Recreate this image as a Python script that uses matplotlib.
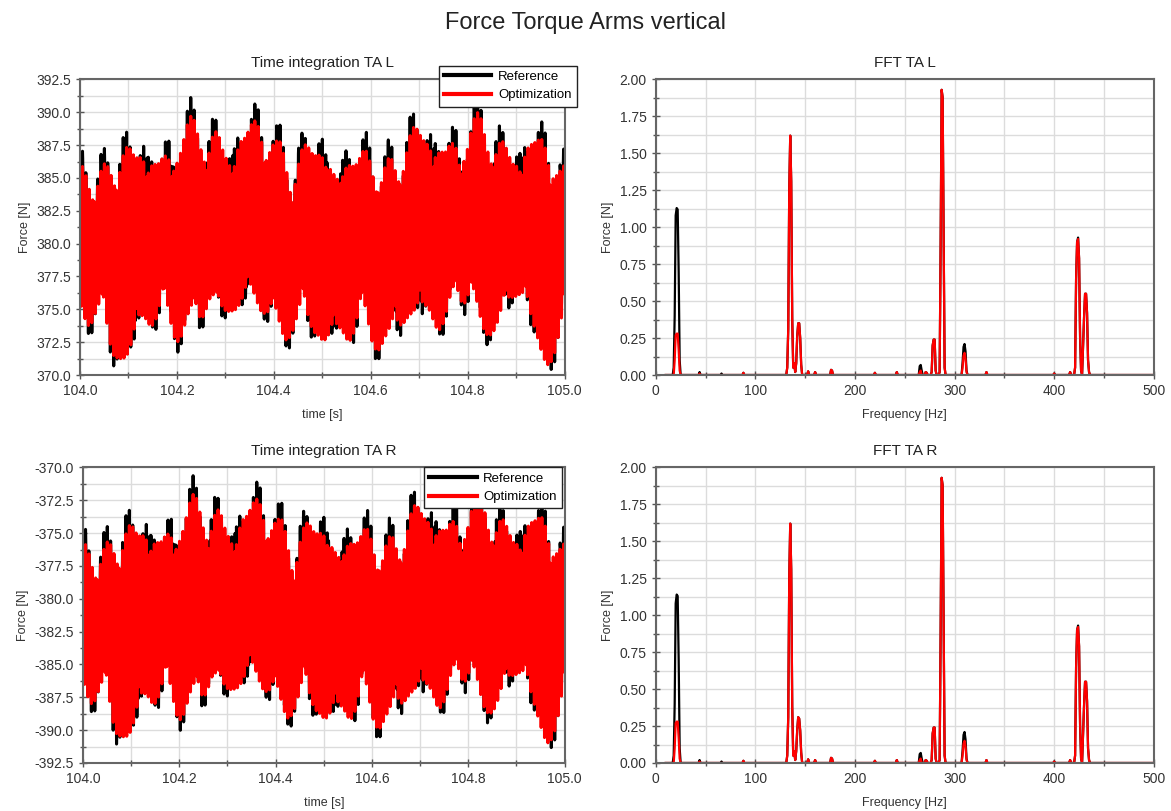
import numpy as np
import matplotlib
matplotlib.use("Agg")
import matplotlib.pyplot as plt
from matplotlib.ticker import MultipleLocator, FormatStrFormatter

plt.rcParams['font.family'] = ['Liberation Sans', 'DejaVu Sans']

# ---- time signal: tones (Hz), amplitudes estimated from the time plots
tone_hz = [22, 135, 143, 278, 287, 309, 424, 431]
tone_phase = [0.0, 1.2, 2.5, 0.7, 3.0, 1.9, 0.4, 2.2]
amp_ref = [1.5, 3.0, 0.8, 0.4, 3.4, 0.35, 1.7, 0.9]
amp_opt = [0.4, 3.0, 0.8, 0.4, 3.4, 0.25, 1.7, 0.9]
mean_L_ref, mean_L_opt = 380.75, 380.5
mean_R_ref, mean_R_opt = -381.0, -381.25
t_start, t_end, dt = 104.0, 105.0, 0.0002

# ---- spectra (Hz, amplitude N)
shared_L = [(132, 0.05), (133, 0.31), (134, 1.25), (135, 1.62), (136, 1.31), (137, 0.38),
            (138, 0.05), (139, 0.08), (140, 0.02), (141, 0.08), (142, 0.26), (143, 0.35),
            (144, 0.35), (145, 0.25), (146, 0.07), (153, 0.025), (160, 0.02), (176, 0.035),
            (177, 0.03), (220, 0.015), (242, 0.02), (271, 0.02), (272, 0.015), (277, 0.02),
            (278, 0.2), (279, 0.24), (280, 0.24), (281, 0.03), (285, 0.02), (286, 0.88),
            (287, 1.93), (288, 1.88), (289, 0.98), (290, 0.05), (332, 0.02), (400, 0.01),
            (416, 0.02), (421, 0.05), (422, 0.65), (423, 0.90), (424, 0.92), (425, 0.79),
            (426, 0.26), (427, 0.03), (429, 0.2), (430, 0.39), (431, 0.55), (432, 0.55),
            (433, 0.42), (434, 0.1), (435, 0.02)]
ref_L_extra = [(18, 0.05), (19, 0.40), (20, 1.08), (21, 1.13), (22, 1.12), (23, 0.70),
               (24, 0.10), (44, 0.02), (66, 0.01), (88, 0.015), (265, 0.06), (266, 0.068),
               (267, 0.03), (308, 0.08), (309, 0.19), (310, 0.21), (311, 0.16), (312, 0.03),
               (424, 0.93)]
opt_L_extra = [(19, 0.10), (20, 0.27), (21, 0.28), (22, 0.28), (23, 0.17), (24, 0.03),
               (44, 0.01), (88, 0.015), (265, 0.02), (266, 0.03), (308, 0.05), (309, 0.13),
               (310, 0.15), (311, 0.11), (312, 0.02)]
R_changes = [(142, 0.22), (143, 0.31), (144, 0.30), (145, 0.22)]
ref_R_changes = [(21, 1.14), (22, 1.13)]

freq = np.arange(10, 501)


def spectrum(*pairs_lists):
    amp = np.zeros(len(freq))
    for pairs in pairs_lists:
        for hz, a in pairs:
            amp[hz - freq[0]] = a
    return amp


def signal(mean, amps):
    t = np.arange(t_start, t_end + dt / 2, dt)
    y = np.full(len(t), mean)
    for f, a, p in zip(tone_hz, amps, tone_phase):
        y += a * np.cos(2 * np.pi * f * (t - t_start) + p)
    return t, y


def style(ax):
    ax.grid(which='both', color='#dcdcdc', lw=1)
    ax.set_axisbelow(True)
    for s in ax.spines.values():
        s.set_color('#666666')
        s.set_linewidth(1.5)
    ax.tick_params(which='major', direction='inout', length=6, width=1, color='#555555',
                   labelcolor='#333333', labelsize=10)
    ax.tick_params(which='minor', direction='inout', length=4, width=1, color='#555555')


fig = plt.figure(figsize=(11.71, 8.11), dpi=100)
fig.suptitle("Force Torque Arms vertical", fontsize=17, y=0.985, color='#222222')

rows = [(0.5376, 'L', mean_L_ref, mean_L_opt, (370, 392.5), (1.025, 1.047)),
        (0.0592, 'R', mean_R_ref, mean_R_opt, (-392.5, -370), (0.995, 1.0))]

for bottom, side, m_ref, m_opt, ylim, anchor in rows:
    # time integration
    ax = fig.add_axes([0.0683 if side == 'L' else 0.0709, bottom,
                       0.4138 if side == 'L' else 0.4112, 0.3644])
    t, y_ref = signal(m_ref, amp_ref)
    t, y_opt = signal(m_opt, amp_opt)
    ax.plot(t, y_ref, color='black', lw=2.2, label='Reference')
    ax.plot(t, y_opt, color='red', lw=2.2, label='Optimization')
    ax.set_xlim(104.0, 105.0)
    ax.set_ylim(*ylim)
    ax.xaxis.set_major_locator(MultipleLocator(0.2))
    ax.xaxis.set_minor_locator(MultipleLocator(0.1))
    ax.yaxis.set_major_locator(MultipleLocator(2.5))
    ax.yaxis.set_minor_locator(MultipleLocator(1.25))
    ax.xaxis.set_major_formatter(FormatStrFormatter('%.1f'))
    ax.yaxis.set_major_formatter(FormatStrFormatter('%.1f'))
    style(ax)
    ax.set_title("Time integration TA " + side, fontsize=11, color='#222222', pad=9)
    ax.set_xlabel("time [s]", fontsize=9, color='#333333', labelpad=8)
    ax.set_ylabel("Force [N]", fontsize=9, color='#333333')
    leg = ax.legend(loc='upper right', bbox_to_anchor=anchor, borderaxespad=0,
                    fancybox=False, framealpha=1, edgecolor='#222222', fontsize=9.5,
                    handlelength=3.6, handletextpad=0.5, borderpad=0.4, labelspacing=0.45)
    leg.get_frame().set_linewidth(1.0)
    for ln in leg.get_lines():
        ln.set_linewidth(3)

    # FFT
    ax2 = fig.add_axes([0.560, bottom, 0.4253, 0.3644])
    if side == 'L':
        s_ref = spectrum(shared_L, ref_L_extra)
        s_opt = spectrum(shared_L, opt_L_extra)
    else:
        s_ref = spectrum(shared_L, R_changes, ref_L_extra, ref_R_changes)
        s_opt = spectrum(shared_L, R_changes, opt_L_extra)
    ax2.plot(freq, s_ref, color='black', lw=1.6)
    ax2.plot(freq, s_opt, color='red', lw=1.6)
    ax2.set_xlim(0, 500)
    ax2.set_ylim(0, 2.0)
    ax2.xaxis.set_major_locator(MultipleLocator(100))
    ax2.xaxis.set_minor_locator(MultipleLocator(50))
    ax2.yaxis.set_major_locator(MultipleLocator(0.25))
    ax2.yaxis.set_minor_locator(MultipleLocator(0.125))
    ax2.yaxis.set_major_formatter(FormatStrFormatter('%.2f'))
    style(ax2)
    ax2.set_title("FFT TA " + side, fontsize=11, color='#222222', pad=9)
    ax2.set_xlabel("Frequency [Hz]", fontsize=9, color='#333333', labelpad=8)
    ax2.set_ylabel("Force [N]", fontsize=9, color='#333333')

fig.savefig("out.png", dpi=100)
